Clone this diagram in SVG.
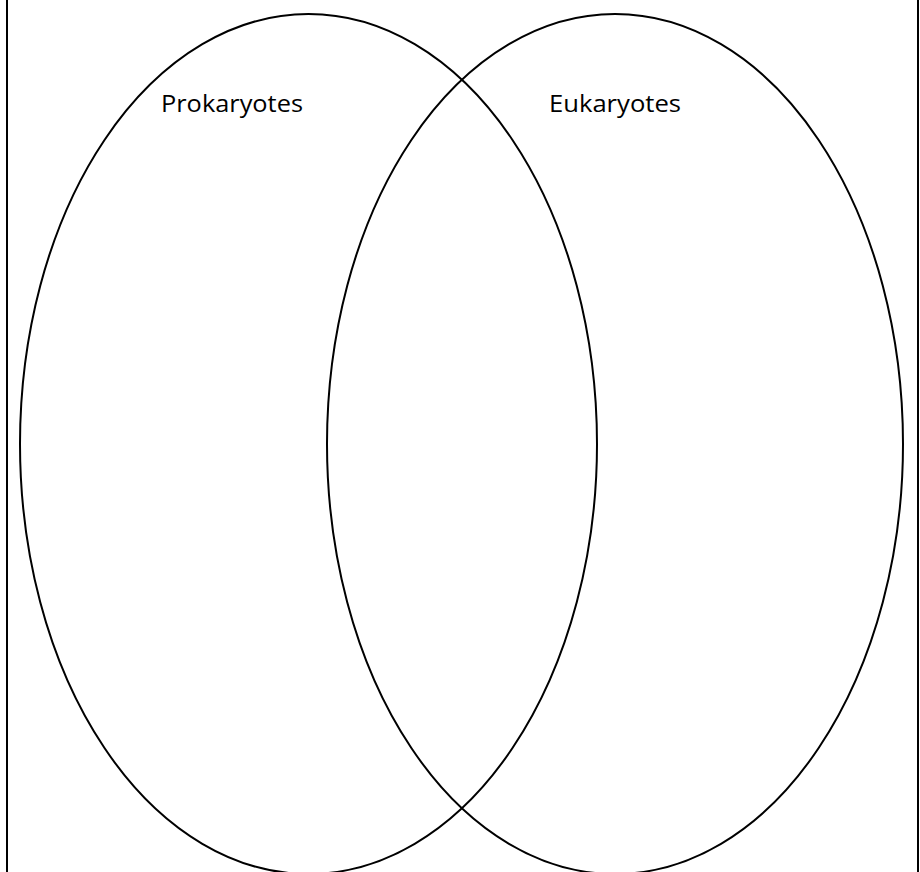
<svg xmlns="http://www.w3.org/2000/svg" width="920" height="872" viewBox="0 0 920 872">
<style>
.ov{fill:none;stroke:#000;stroke-width:2}
.lbl{font-family:"Open Sans","Liberation Sans",sans-serif;font-size:23px;fill:#000}
</style>
<rect x="0" y="0" width="920" height="872" fill="#fff"/>
<rect id="frame" x="7" y="-10" width="911" height="900" fill="none" stroke="#000" stroke-width="2"/>
<g id="prokaryotes">
<ellipse class="ov" cx="308.5" cy="444" rx="288.5" ry="430"/>
<text class="lbl" x="161" y="112" textLength="142" lengthAdjust="spacingAndGlyphs">Prokaryotes</text>
</g>
<g id="eukaryotes">
<ellipse class="ov" cx="615" cy="444" rx="288" ry="430"/>
<text class="lbl" x="549" y="112" textLength="132" lengthAdjust="spacingAndGlyphs">Eukaryotes</text>
</g>
<g id="connectors"/>
</svg>
